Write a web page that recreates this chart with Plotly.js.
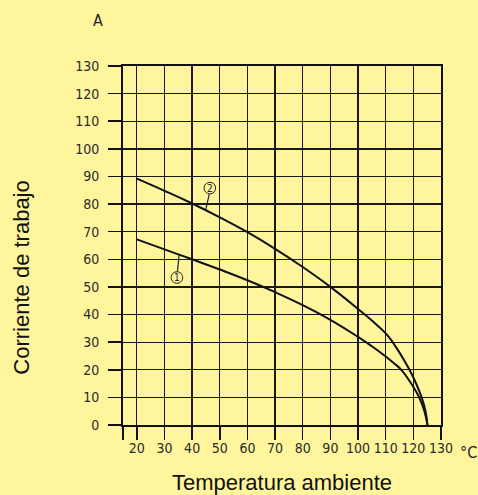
<!DOCTYPE html>
<html>
<head>
<meta charset="utf-8">
<script src="https://cdn.plot.ly/plotly-3.0.1.min.js"></script>
<style>
html,body{margin:0;padding:0;background:#fff59d;}
#chart{width:478px;height:495px;}
</style>
</head>
<body>
<div id="chart"></div>
<script>
// Curve 2 (upper)
const temp2 = [20, 30, 40, 50, 60, 70, 80, 90, 100, 105, 110, 112.3, 115, 118.6, 120, 123, 124.4, 125.1];
const current2 = [89.2, 84.8, 80.2, 75.2, 69.8, 63.8, 57.2, 50.0, 42.0, 37.8, 33.2, 30.3, 26.2, 20, 17.2, 10, 5, 0];
// Curve 1 (lower)
const temp1 = [20, 30, 40, 50, 60, 70, 80, 90, 100, 105, 110, 113, 115.8, 120, 122.1, 124, 125.1];
const current1 = [67.2, 63.6, 60.0, 56.3, 52.4, 48.1, 43.4, 38.1, 31.9, 28.5, 24.8, 22.4, 19.8, 13.8, 10, 5, 0];

const xTickVals = [15, 20, 30, 40, 50, 60, 70, 80, 90, 100, 110, 120, 130];
const xTickText = ['', '20', '30', '40', '50', '60', '70', '80', '90', '100', '110', '120', '130'];
const yTickVals = [0, 10, 20, 30, 40, 50, 60, 70, 80, 90, 100, 110, 120, 130];

const curveLabels = [
  {name: '1', cx: 34.5, cy: 53.4, lx0: 34.7, ly0: 55.6, lx1: 35.3, ly1: 61.6},
  {name: '2', cx: 46.4, cy: 85.8, lx0: 46.2, ly0: 83.6, lx1: 44.9, ly1: 77.9}
];

const tickFont = {family: '"Liberation Sans Narrow", "DejaVu Sans Condensed", sans-serif', size: 14, color: '#2a2a2a'};
const titleFont = {family: '"Liberation Sans", Arial, sans-serif', size: 22, color: '#111'};

const traces = [
  {x: temp1, y: current1, mode: 'lines', name: '1', line: {color: '#111', width: 2, shape: 'spline', smoothing: 1.3}, hoverinfo: 'x+y'},
  {x: temp2, y: current2, mode: 'lines', name: '2', line: {color: '#111', width: 2, shape: 'spline', smoothing: 1.3}, hoverinfo: 'x+y'}
];

const shapes = [];
const annotations = [];
const rx = 2.1, ry = 2.1;
curveLabels.forEach(l => {
  shapes.push({type: 'circle', xref: 'x', yref: 'y', x0: l.cx - rx, x1: l.cx + rx, y0: l.cy - ry, y1: l.cy + ry, line: {color: '#222', width: 1}});
  shapes.push({type: 'line', xref: 'x', yref: 'y', x0: l.lx0, y0: l.ly0, x1: l.lx1, y1: l.ly1, line: {color: '#222', width: 1.2}});
  annotations.push({x: l.cx, y: l.cy, xref: 'x', yref: 'y', text: l.name, showarrow: false, font: {family: tickFont.family, size: 10, color: '#222'}, xanchor: 'center', yanchor: 'middle'});
});
annotations.push({xref: 'paper', yref: 'paper', x: (98 - 123) / 317.7, y: (425 - 21) / 358.5, text: 'A', showarrow: false, font: {family: tickFont.family, size: 16, color: '#222'}, xanchor: 'center', yanchor: 'middle'});
annotations.push({xref: 'paper', yref: 'paper', x: (458 - 123) / 317.7, y: (425 - 452) / 358.5, text: '°C', showarrow: false, font: {family: tickFont.family, size: 16, color: '#222'}, xanchor: 'left', yanchor: 'middle'});
annotations.push({xref: 'paper', yref: 'paper', x: (22 - 123) / 317.7, y: (425 - 278) / 358.5, text: 'Corriente de trabajo', textangle: -90, showarrow: false, font: titleFont, xanchor: 'center', yanchor: 'middle'});

const layout = {
  width: 478, height: 495,
  paper_bgcolor: '#fff59d', plot_bgcolor: '#fff59d',
  margin: {l: 123, r: 37, t: 66, b: 70},
  showlegend: false,
  xaxis: {
    range: [15, 130], tickmode: 'array', tickvals: xTickVals, ticktext: xTickText,
    ticks: 'outside', ticklen: 13, tickwidth: 1.5, tickcolor: '#111',
    showline: true, linecolor: '#111', linewidth: 2, mirror: true,
    showgrid: true, gridcolor: '#1a1a1a', gridwidth: 1.3,
    zeroline: false, tickfont: tickFont, ticklabelstandoff: -4,
    title: {text: 'Temperatura ambiente', font: titleFont, standoff: 27},
    automargin: false
  },
  yaxis: {
    range: [0, 130], tickmode: 'array', tickvals: yTickVals,
    ticks: 'outside', ticklen: 13, tickwidth: 1.5, tickcolor: '#111',
    showline: true, linecolor: '#111', linewidth: 2, mirror: true,
    showgrid: true, gridcolor: '#1a1a1a', gridwidth: 1.3,
    zeroline: false, tickfont: tickFont, ticklabelstandoff: 6,
    automargin: false
  },
  shapes: shapes,
  annotations: annotations
};

Plotly.newPlot('chart', traces, layout, {displayModeBar: false, staticPlot: true});
</script>
</body>
</html>
